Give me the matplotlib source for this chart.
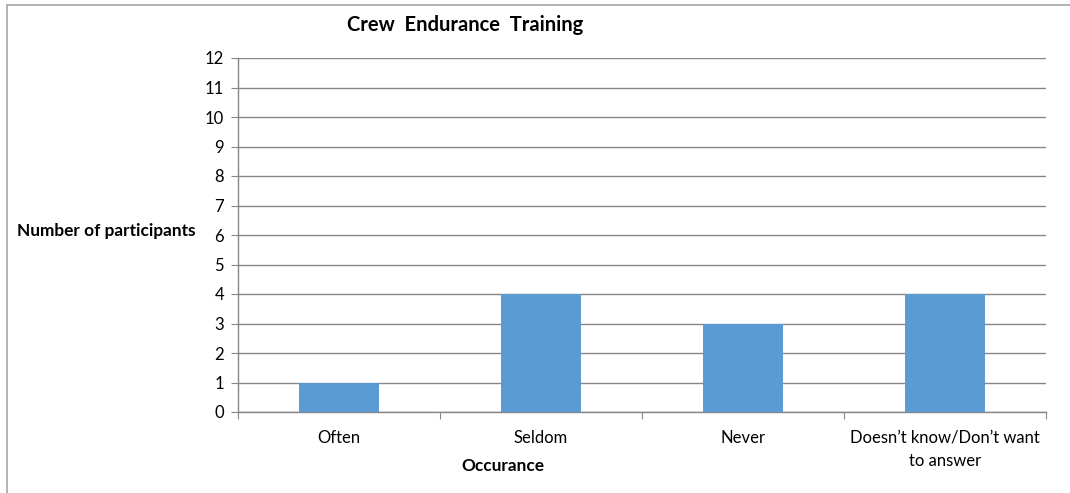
import matplotlib
matplotlib.use("Agg")
import matplotlib.pyplot as plt
from matplotlib.patches import Rectangle

categories = ["Often", "Seldom", "Never", "Doesn\u2019t know/Don\u2019t want\nto answer"]
values = [1, 4, 3, 4]
yticks = list(range(0, 13))

plt.rcParams['font.family'] = ['Lato', 'DejaVu Sans']

W, H = 1070, 493
fig = plt.figure(figsize=(W / 100, H / 100), dpi=100)
fig.patch.set_facecolor("white")

# outer border
fig.add_artist(Rectangle((7 / W, -0.01), 1.02, 1 - 5 / H + 0.01, transform=fig.transFigure,
                         fill=False, edgecolor="#a6a6a6", linewidth=1.2))

ax = fig.add_axes([238 / W, (H - 412) / H, (1046 - 238) / W, (412 - 58) / H])
x = list(range(len(categories)))
ax.bar(x, values, width=0.4, color="#5b9bd5", zorder=3)
ax.set_xlim(-0.5, len(categories) - 0.5)
ax.set_ylim(0, 12)
ax.set_yticks(yticks)
ax.set_yticklabels([str(t) for t in yticks], fontsize=12)
ax.yaxis.grid(True, color="#868686", linewidth=1, zorder=0)
ax.set_axisbelow(True)
for s in ["top", "right"]:
    ax.spines[s].set_visible(False)
for s in ["left", "bottom"]:
    ax.spines[s].set_color("#868686")
    ax.spines[s].set_linewidth(1)
ax.tick_params(axis="y", length=5, color="#868686", pad=5)
ax.set_xticks([i - 0.5 for i in range(len(categories) + 1)])
ax.set_xticklabels([])
ax.tick_params(axis="x", length=5, color="#868686")
for i, c in enumerate(categories):
    ax.text(i, -0.6, c, ha="center", va="top", fontsize=12, linespacing=1.6,
            transform=ax.transData)

fig.text(465 / W, 1 - 25 / H, "Crew  Endurance  Training", ha="center", va="center",
         fontsize=14.5, fontweight="bold")
fig.text(106 / W, 1 - 231 / H, "Number of participants", ha="center", va="center",
         fontsize=12.4, fontweight="bold")
fig.text(503 / W, 1 - 466 / H, "Occurance", ha="center", va="center",
         fontsize=12.4, fontweight="bold")

fig.savefig("out.png", dpi=100)
